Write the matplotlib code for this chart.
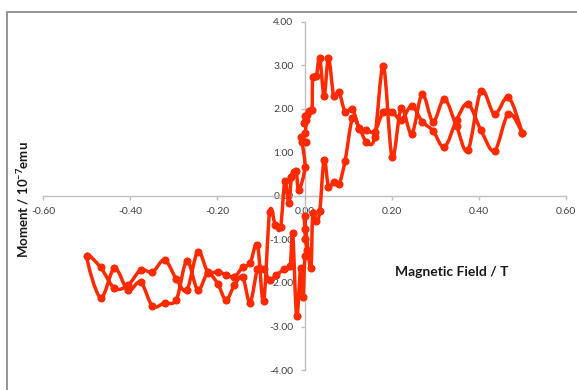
import numpy as np
import matplotlib
matplotlib.use("Agg")
import matplotlib.pyplot as plt
from matplotlib.path import Path
from matplotlib.patches import PathPatch, Rectangle
from matplotlib.ticker import FixedLocator, FuncFormatter

# ---- data: descending branch (from +0.5 T to -0.5 T) ----
field_down = [0.500, 0.468, 0.436, 0.405, 0.375, 0.349, 0.321, 0.295, 0.270, 0.246,
              0.222, 0.201, 0.181, 0.161, 0.142, 0.126, 0.110, 0.093, 0.079, 0.067,
              0.055, 0.045, 0.035, 0.027, 0.019, 0.017, 0.010, 0.005, 0.002, -0.001,
              0.004, 0.001, -0.008, 0.004, -0.005, 0.001, -0.013, -0.019, -0.024, -0.030,
              -0.036, -0.045, -0.055, -0.067, -0.080, -0.094, -0.108, -0.125, -0.142, -0.161,
              -0.180, -0.199, -0.222, -0.245, -0.270, -0.294, -0.321, -0.349, -0.376, -0.405,
              -0.436, -0.468, -0.500]
moment_down = [1.45, 1.89, 1.04, 1.51, 2.12, 1.75, 1.12, 1.50, 1.71, 2.07,
               1.75, 1.94, 1.94, 1.48, 1.52, 1.54, 2.00, 1.94, 2.40, 2.30,
               3.18, 2.30, 3.18, 2.75, 2.73, 1.98, 1.96, 1.87, 1.84, 1.67,
               1.74, 1.44, 1.36, 1.25, 1.25, 0.66, 0.14, 0.58, 0.56, 0.44,
               -0.17, 0.35, -0.72, -0.67, -0.37, -2.42, -1.12, -1.55, -1.64, -1.86,
               -1.81, -1.74, -1.74, -1.28, -2.16, -1.91, -1.47, -1.75, -1.70, -2.05,
               -2.12, -1.64, -1.37]

# ---- data: ascending branch (from -0.5 T to +0.5 T) ----
field_up = [-0.500, -0.468, -0.436, -0.405, -0.376, -0.349, -0.321, -0.294, -0.270, -0.245,
            -0.222, -0.199, -0.180, -0.161, -0.142, -0.125, -0.108, -0.094, -0.080, -0.065,
            -0.046, -0.033, -0.027, -0.018, -0.009, -0.004, 0.001, 0.005, 0.002, 0.001,
            0.000, 0.014, 0.019, 0.027, 0.035, 0.045, 0.055, 0.067, 0.079, 0.093,
            0.110, 0.126, 0.142, 0.161, 0.181, 0.201, 0.222, 0.246, 0.270, 0.295,
            0.321, 0.349, 0.375, 0.405, 0.436, 0.468, 0.500]
moment_up = [-1.37, -2.34, -1.66, -2.17, -1.98, -2.53, -2.46, -2.38, -1.49, -2.16,
             -1.78, -2.02, -2.39, -2.05, -1.86, -2.45, -1.68, -1.68, -1.93, -1.82,
             -1.68, -1.60, -0.86, -2.77, -1.65, -2.32, -1.39, -1.24, -0.98, -0.77,
             -0.46, -1.66, -0.39, -0.58, -0.35, 0.83, 0.21, 0.33, 0.27, 0.80,
             1.79, 1.56, 1.25, 1.35, 2.98, 0.90, 2.02, 1.43, 2.34, 1.71,
             2.23, 1.60, 1.05, 2.42, 1.88, 2.27, 1.45]

x_ticks = [-0.60, -0.40, -0.20, 0.00, 0.20, 0.40, 0.60]
y_ticks = [-4.00, -3.00, -2.00, -1.00, 0.00, 1.00, 2.00, 3.00, 4.00]
x_label = "Magnetic Field / T"
y_label = "Moment / 10$^{-7}$emu"

RED = "#FF2A00"
GRAY_AX = "#BFBFBF"
TXT = "#404040"

plt.rcParams["font.family"] = ["Lato", "DejaVu Sans"]
plt.rcParams["mathtext.fontset"] = "custom"
plt.rcParams["mathtext.rm"] = "Lato"
plt.rcParams["mathtext.bf"] = "Lato:bold"
plt.rcParams["mathtext.default"] = "bf"


def smooth_path(xs, ys):
    """Catmull-Rom style smoothing as cubic Bezier path (like Excel smoothed lines)."""
    pts = np.column_stack([xs, ys]).astype(float)
    n = len(pts)
    verts = [pts[0]]
    codes = [Path.MOVETO]
    for i in range(n - 1):
        p0 = pts[i - 1] if i > 0 else pts[i]
        p1 = pts[i]
        p2 = pts[i + 1]
        p3 = pts[i + 2] if i + 2 < n else pts[i + 1]
        c1 = p1 + (p2 - p0) / 6.0
        c2 = p2 - (p3 - p1) / 6.0
        verts += [c1, c2, p2]
        codes += [Path.CURVE4] * 3
    return Path(verts, codes)


fig = plt.figure(figsize=(5.77, 3.90), dpi=100)
ax = fig.add_axes([43 / 577, 1 - 370 / 390, (566 - 43) / 577, (370 - 22) / 390])

all_x = list(field_down) + list(field_up[1:])
all_y = list(moment_down) + list(moment_up[1:])

patch = PathPatch(smooth_path(all_x, all_y), facecolor="none", edgecolor=RED,
                  lw=2.5, joinstyle="round", capstyle="round", zorder=3)
ax.add_patch(patch)
ax.plot(all_x, all_y, linestyle="none", marker="o", ms=4.8, color=RED,
        mec=RED, zorder=4)

ax.set_xlim(-0.6, 0.6)
ax.set_ylim(-4, 4)

for s in ["top", "right"]:
    ax.spines[s].set_visible(False)
ax.spines["left"].set_position(("data", 0))
ax.spines["bottom"].set_position(("data", 0))
for s in ["left", "bottom"]:
    ax.spines[s].set_color(GRAY_AX)
    ax.spines[s].set_linewidth(1.0)

ax.xaxis.set_major_locator(FixedLocator(x_ticks))
ax.yaxis.set_major_locator(FixedLocator(y_ticks))
fmt = FuncFormatter(lambda v, p: f"{v:.2f}" if abs(v) > 1e-9 else "0.00")
ax.xaxis.set_major_formatter(fmt)
ax.yaxis.set_major_formatter(fmt)
ax.tick_params(axis="both", direction="out", length=3, width=1.0, color=GRAY_AX,
               labelsize=7.5, labelcolor=TXT, pad=5)
ax.patch.set_alpha(0)

fig.text(452 / 577, 1 - 272 / 390, x_label, fontsize=10, fontweight="bold",
         color="#1a1a1a", ha="center", va="center")
fig.text(23 / 577, 1 - 200 / 390, y_label, fontsize=9.5, fontweight="bold",
         color="#1a1a1a", ha="center", va="center", rotation=90)

# outer chart frame
frame = Rectangle((7 / 577, -0.2), 1.2, 1 - 12 / 390 + 0.2, transform=fig.transFigure,
                  fill=False, edgecolor="#8C8C8C", lw=1.3, clip_on=False)
fig.patches.append(frame)

fig.savefig("out.png", dpi=100)
